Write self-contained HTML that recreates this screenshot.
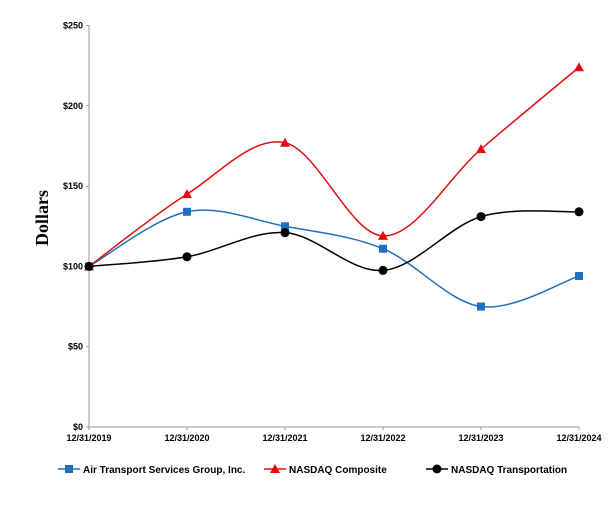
<!DOCTYPE html>
<html><head><meta charset="utf-8"><style>
html,body{margin:0;padding:0;background:#fff;}
svg text{font-family:"Liberation Sans",Arial,sans-serif;font-weight:bold;}
</style></head><body>
<svg id="s" width="609" height="506" xmlns="http://www.w3.org/2000/svg">
<text x="0" y="0" transform="translate(48,218) rotate(-90)" text-anchor="middle" style="font-family:'Liberation Serif',serif;font-size:18px;font-weight:bold">Dollars</text>
<g id="g"></g>
</svg>
<script>
var g=document.getElementById('g'),h='';
function X(i){return 89+98*i}function Y(v){return 427-v*1.606}
h+='<line x1="89" y1="25" x2="89" y2="427" stroke="#999" stroke-width="1"/>';
h+='<line x1="89" y1="427" x2="579" y2="427" stroke="#999" stroke-width="1"/>';
for(var v=0;v<=250;v+=50){h+='<line x1="86" x2="89" y1="'+Y(v)+'" y2="'+Y(v)+'" stroke="#999"/>';
h+='<text x="83" y="'+(Y(v)+3)+'" text-anchor="end" font-size="9">$'+v+'</text>';}
var yr=['12/31/2019','12/31/2020','12/31/2021','12/31/2022','12/31/2023','12/31/2024'];
for(var i=0;i<6;i++){h+='<line x1="'+X(i)+'" x2="'+X(i)+'" y1="427" y2="430" stroke="#999"/>';
h+='<text x="'+X(i)+'" y="441" text-anchor="middle" font-size="9">'+yr[i]+'</text>';}
function path(d){var p=d.map(function(v,i){return[X(i),Y(v)]});var s='M'+p[0][0]+','+p[0][1];
for(var i=0;i<p.length-1;i++){var p0=p[Math.max(i-1,0)],p1=p[i],p2=p[i+1],p3=p[Math.min(i+2,p.length-1)];
var t=1/6;s+=' C'+(p1[0]+(p2[0]-p0[0])*t)+','+(p1[1]+(p2[1]-p0[1])*t)+' '+(p2[0]-(p3[0]-p1[0])*t)+','+(p2[1]-(p3[1]-p1[1])*t)+' '+p2[0]+','+p2[1];}return s;}
var S=[{d:[100,134,125,111,75,94],c:'#1f6fbf',m:'sq'},{d:[100,145,177,119,173,224],c:'#e01010',m:'tri'},{d:[100,106,121,97.5,131,134],c:'#000',m:'dot'}];
function mk(m,x,y,c){if(m=='sq')return '<rect x="'+(x-4)+'" y="'+(y-4)+'" width="8" height="8" fill="'+c+'"/>';
if(m=='tri')return '<polygon points="'+x+','+(y-5)+' '+(x+5)+','+(y+4)+' '+(x-5)+','+(y+4)+'" fill="'+c+'"/>';
return '<circle cx="'+x+'" cy="'+y+'" r="4.5" fill="'+c+'"/>';}
S.forEach(function(s){h+='<path d="'+path(s.d)+'" fill="none" stroke="'+s.c+'" stroke-width="1.5"/>';
s.d.forEach(function(v,i){h+=mk(s.m,X(i),Y(v),s.c)});});
var L=[[58,'Air Transport Services Group, Inc.',0],[264,'NASDAQ Composite',1],[426,'NASDAQ Transportation',2]];
L.forEach(function(l){var s=S[l[2]];h+='<line x1="'+l[0]+'" x2="'+(l[0]+22)+'" y1="469" y2="469" stroke="'+s.c+'" stroke-width="1.5"/>'+mk(s.m,l[0]+11,469,s.c);
h+='<text x="'+(l[0]+25)+'" y="473" font-size="10">'+l[1]+'</text>';});
g.innerHTML=h;
</script>
</body></html>
